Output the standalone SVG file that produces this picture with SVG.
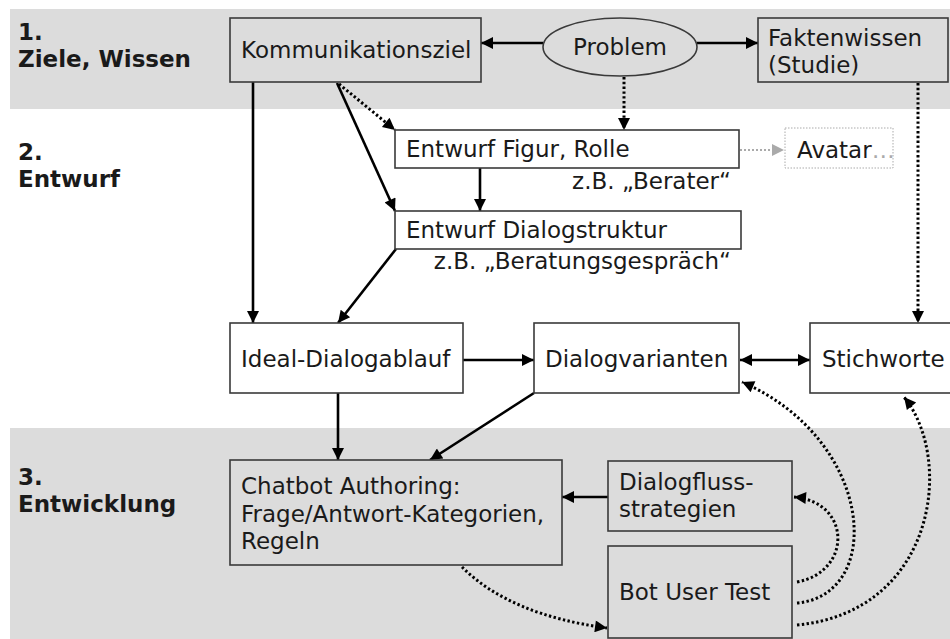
<svg xmlns="http://www.w3.org/2000/svg" width="950" height="639" viewBox="0 0 950 639">
<defs>
<style>
.band{fill:#dcdcdc}
.box{stroke:#3a3a3a;stroke-width:1.6}
.g{fill:#dcdcdc}
.w{fill:#ffffff}
.t{font-family:"DejaVu Sans","Verdana",sans-serif;font-size:23px;fill:#1a1a1a}
.b{font-family:"DejaVu Sans","Verdana",sans-serif;font-size:23px;font-weight:bold;fill:#1a1a1a}
.s{stroke:#000;stroke-width:2.6;fill:none}
.d{stroke:#000;stroke-width:3;fill:none;stroke-dasharray:2.4 2.4}
.gd{stroke:#aaa;stroke-width:2;fill:none;stroke-dasharray:2 2}
</style>
<marker id="ah" viewBox="0 0 10 10" refX="10" refY="5" markerWidth="14" markerHeight="12" markerUnits="userSpaceOnUse" orient="auto-start-reverse"><path d="M0,0 L10,5 L0,10 z" fill="#000"/></marker>
<marker id="ahg" viewBox="0 0 10 10" refX="10" refY="5" markerWidth="13" markerHeight="12" markerUnits="userSpaceOnUse" orient="auto"><path d="M0,0 L10,5 L0,10 z" fill="#aaa"/></marker>
</defs>
<rect class="band" x="10" y="9" width="940" height="100"/>
<rect class="band" x="10" y="428" width="940" height="211"/>
<g id="labels">
<text class="b" x="18" y="40">1.</text>
<text class="b" x="18" y="67">Ziele, Wissen</text>
<text class="b" x="18" y="160">2.</text>
<text class="b" x="18" y="187">Entwurf</text>
<text class="b" x="18" y="485">3.</text>
<text class="b" x="18" y="512">Entwicklung</text>
</g>
<g id="connectors">
<line class="s" x1="543" y1="43" x2="481" y2="43" marker-end="url(#ah)"/>
<line class="s" x1="697" y1="43" x2="758" y2="43" marker-end="url(#ah)"/>
<line class="d" x1="624" y1="77" x2="624" y2="130" marker-end="url(#ah)"/>
<line class="d" x1="339" y1="84" x2="395" y2="130" marker-end="url(#ah)"/>
<line class="s" x1="337" y1="83" x2="395" y2="211" marker-end="url(#ah)"/>
<line class="s" x1="253" y1="82" x2="253" y2="323" marker-end="url(#ah)"/>
<line class="s" x1="480" y1="168" x2="480" y2="211" marker-end="url(#ah)"/>
<line class="gd" x1="740" y1="150" x2="784" y2="150" marker-end="url(#ahg)"/>
<line class="s" x1="396" y1="249" x2="338" y2="323" marker-end="url(#ah)"/>
<line class="d" x1="918" y1="83" x2="918" y2="323" marker-end="url(#ah)"/>
<line class="s" x1="463" y1="360" x2="534" y2="360" marker-end="url(#ah)"/>
<line class="s" x1="740" y1="360" x2="810" y2="360" marker-start="url(#ah)" marker-end="url(#ah)"/>
<line class="s" x1="338" y1="393" x2="338" y2="460" marker-end="url(#ah)"/>
<line class="s" x1="534" y1="393" x2="430" y2="460" marker-end="url(#ah)"/>
<line class="s" x1="608" y1="497" x2="562" y2="497" marker-end="url(#ah)"/>
<path class="d" d="M462,567 Q510,615 607,628" marker-end="url(#ah)"/>
<path class="d" d="M797,582 C852,572 852,502 794,497" marker-end="url(#ah)"/>
<path class="d" d="M797,603 C885,595 875,440 742,382" marker-end="url(#ah)"/>
<path class="d" d="M797,625 C935,612 955,460 904,397" marker-end="url(#ah)"/>
</g>
<g id="kommunikationsziel">
<rect class="box g" x="230" y="18" width="251" height="64"/>
<text class="t" x="241" y="58">Kommunikationsziel</text>
</g>
<g id="problem">
<ellipse class="box g" cx="620" cy="47" rx="77" ry="29"/>
<text class="t" x="620" y="55" text-anchor="middle">Problem</text>
</g>
<g id="faktenwissen">
<rect class="box g" x="758" y="18" width="190" height="64"/>
<text class="t" x="768" y="46">Faktenwissen</text>
<text class="t" x="768" y="73">(Studie)</text>
</g>
<g id="entwurf-figur">
<rect class="box w" x="395" y="130" width="344" height="38"/>
<text class="t" x="406" y="157">Entwurf Figur, Rolle</text>
<text class="t" x="731" y="189" text-anchor="end">z.B. „Berater“</text>
</g>
<g id="avatar">
<rect x="785" y="128" width="108" height="40" fill="#fff" stroke="#aaa" stroke-width="1" stroke-dasharray="1.5 1.5"/>
<text class="t" x="797" y="158">Avatar<tspan fill="#aaa">…</tspan></text>
</g>
<g id="entwurf-dialogstruktur">
<rect class="box w" x="395" y="211" width="346" height="38"/>
<text class="t" x="406" y="238">Entwurf Dialogstruktur</text>
<text class="t" x="731" y="269" text-anchor="end">z.B. „Beratungsgespräch“</text>
</g>
<g id="ideal">
<rect class="box w" x="230" y="323" width="233" height="70"/>
<text class="t" x="241" y="367">Ideal-Dialogablauf</text>
</g>
<g id="dialogvarianten">
<rect class="box w" x="534" y="323" width="205" height="70"/>
<text class="t" x="545" y="367">Dialogvarianten</text>
</g>
<g id="stichworte">
<rect class="box w" x="810" y="323" width="150" height="70"/>
<text class="t" x="822" y="367">Stichworte</text>
</g>
<g id="chatbot">
<rect class="box g" x="230" y="460" width="332" height="105"/>
<text class="t" x="241" y="494">Chatbot Authoring:</text>
<text class="t" x="241" y="522">Frage/Antwort-Kategorien,</text>
<text class="t" x="241" y="549">Regeln</text>
</g>
<g id="dialogfluss">
<rect class="box g" x="608" y="461" width="184" height="70"/>
<text class="t" x="619" y="490">Dialogfluss-</text>
<text class="t" x="619" y="517">strategien</text>
</g>
<g id="bot-user-test">
<rect class="box g" x="608" y="546" width="184" height="92"/>
<text class="t" x="619" y="600">Bot User Test</text>
</g>
</svg>
